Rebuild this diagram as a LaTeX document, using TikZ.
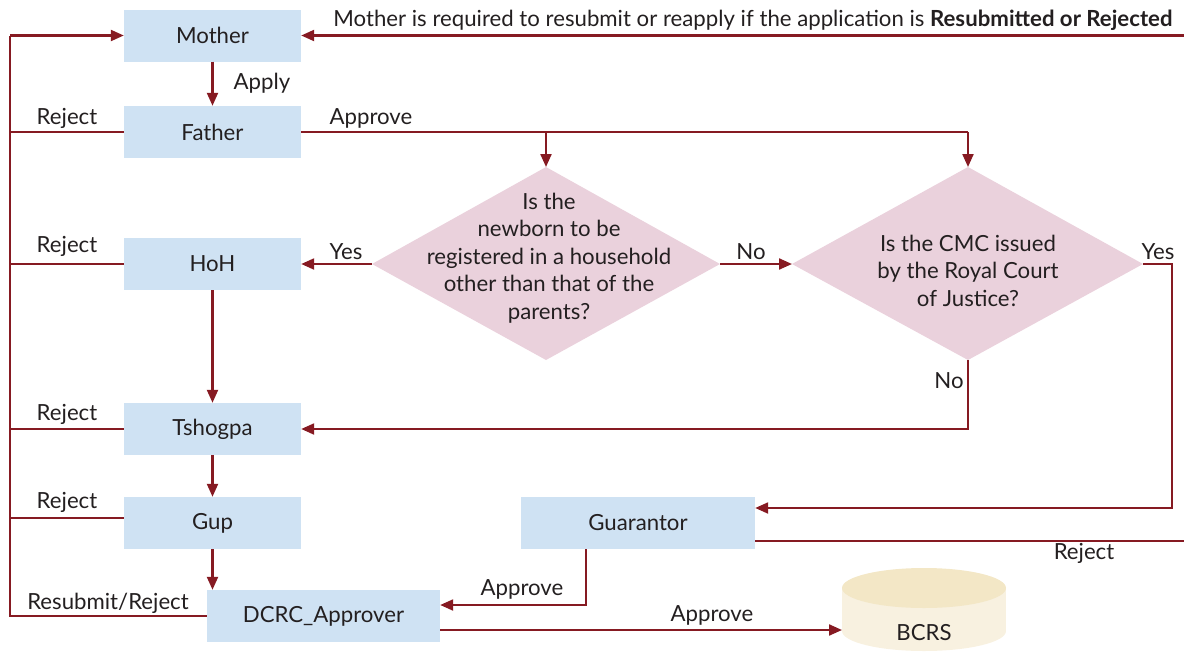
\documentclass[tikz,border=0pt]{standalone}
\usepackage{fontspec}
\setmainfont{Lato}
\usetikzlibrary{arrows.meta,calc}
\definecolor{boxblue}{HTML}{CFE2F3}
\definecolor{dpink}{HTML}{EAD1DC}
\definecolor{lred}{HTML}{861A22}
\definecolor{txt}{HTML}{231F20}
\definecolor{cylbody}{HTML}{F8F1E0}
\definecolor{cyltop}{HTML}{F3E7C6}
\begin{document}
\begin{tikzpicture}[x=1pt,y=-1pt,
  font=\fontsize{22.2}{27.5}\selectfont, text=txt,
  box/.style={fill=boxblue, minimum width=177pt, minimum height=52pt, inner sep=0pt},
  wbox/.style={box, minimum width=233pt},
  line/.style={draw=lred, line width=2.2pt},
  arr/.style={line, -{Triangle[length=13pt,width=11pt]}},
  lbl/.style={inner sep=0pt},
  dtext/.style={align=center, inner sep=0pt}
]
\useasboundingbox (0,0) rectangle (1184,654);

% boxes
\node[box] (mother) at (212.5,35.5) {Mother};
\node[box] (father) at (212.5,132) {Father};
\node[box] (hoh) at (212.5,264) {HoH};
\node[box] (tsh) at (212.5,429) {Tshogpa};
\node[box] (gup) at (212.5,523) {Gup};
\node[wbox] (dcrc) at (323.5,616) {DCRC\_Approver};
\node[wbox, minimum width=234pt] (guar) at (638,523) {Guarantor};

% diamonds
\coordinate (d1w) at (372,264);
\coordinate (d1n) at (546,167);
\coordinate (d1e) at (720,264);
\coordinate (d1s) at (546,360);
\fill[dpink] (d1w) -- (d1n) -- (d1e) -- (d1s) -- cycle;
\node[dtext] (q1) at (549,258) {Is the\\newborn to be\\registered in a household\\other than that of the\\parents?};

\coordinate (d2w) at (792,264);
\coordinate (d2n) at (968,167);
\coordinate (d2e) at (1143,264);
\coordinate (d2s) at (968,360);
\fill[dpink] (d2w) -- (d2n) -- (d2e) -- (d2s) -- cycle;
\node[dtext] (q2) at (968,270.5) {Is the CMC issued\\by the Royal Court\\of Justice?};

% cylinder
\fill[cylbody] (842,588) rectangle (1006,631);
\fill[cylbody] (924,631) ellipse[x radius=82,y radius=20];
\fill[cyltop] (924,588) ellipse[x radius=82,y radius=20];
\node (bcrs) at (924,633) {BCRS};
\coordinate (bcrsw) at (842,630);

% edge coordinates
\coordinate (rtop) at (1184,35.5);
\coordinate (ltop) at (10,35.5);
\coordinate (lbot) at (10,616);
\coordinate (rbot) at (1184,541);
\coordinate (yesx) at (1172,264);

% top feedback
\draw[arr] (rtop) -- (mother.east);
\node[lbl] (toplbl) at (753,20) {Mother is required to resubmit or reapply if the application is \textbf{Resubmitted or Rejected}};

% left bus
\draw[line] (dcrc.west) -- (lbot) -- (ltop);
\draw[arr] (ltop) -- (mother.west);
\draw[line] (father.west) -- (father.west -| lbot);
\draw[line] (hoh.west) -- (hoh.west -| lbot);
\draw[line] (tsh.west) -- (tsh.west -| lbot);
\draw[line] ($(gup.west)+(0,-5)$) -- ($(gup.west -| lbot)+(0,-5)$);
\node[lbl] at (67,118) {Reject};
\node[lbl] at (67,246) {Reject};
\node[lbl] at (67,414) {Reject};
\node[lbl] at (67,502) {Reject};
\node[lbl] at (108,603) {Resubmit/Reject};

% main flow
\draw[arr] (mother.south) -- (father.north);
\node[lbl] at (262,83) {Apply};
\draw[line] (father.east) -- (father.east -| d2n);
\draw[arr] (father.east -| d2n) -- (d2n);
\draw[arr] (father.east -| d1n) -- (d1n);
\node[lbl] at (371,118) {Approve};

\draw[arr] (d1w) -- (hoh.east);
\node[lbl] at (346,252) {Yes};
\draw[arr] (d1e) -- (d2w);
\node[lbl] at (751,252) {No};
\draw[arr] (d2e) -- (yesx) |- ($(guar.east)+(0,-15)$);
\node[lbl] at (1158,252) {Yes};
\draw[arr] (d2s) |- (tsh.east);
\node[lbl] at (949,381) {No};

\draw[arr] (hoh.south) -- (tsh.north);
\draw[arr] (tsh.south) -- (gup.north);
\draw[arr] (gup.south) -- (gup.south |- dcrc.north);

\draw[arr] ($(guar.south)+(-52,0)$) |- ($(dcrc.east)+(0,-11)$);
\node[lbl] at (522,589) {Approve};
\draw[line] ($(guar.east)+(0,18)$) -- (rbot);
\node[lbl] at (1084,553) {Reject};
\draw[arr] ($(dcrc.east)+(0,14)$) -- (bcrsw);
\node[lbl] at (712,615) {Approve};
\end{tikzpicture}
\end{document}
